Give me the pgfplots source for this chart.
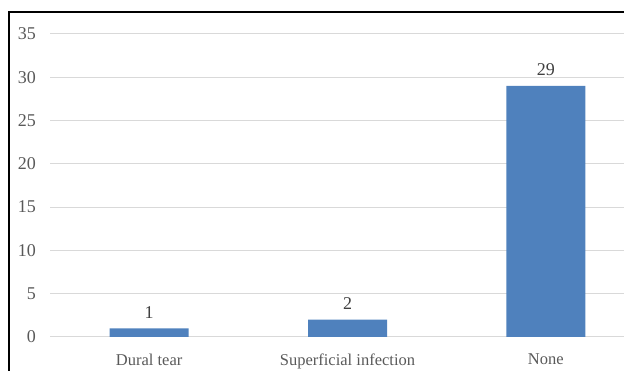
\documentclass[border=0pt]{standalone}
\usepackage{pgfplots}
\pgfplotsset{compat=1.18}
\usepackage{fontspec}
\setmainfont{Liberation Serif}
\definecolor{barblue}{HTML}{4F81BD}
\definecolor{gridgray}{HTML}{D9D9D9}
\definecolor{ticktext}{HTML}{595959}
\definecolor{labeltext}{HTML}{404040}
\begin{document}
\begin{tikzpicture}[x=1pt,y=1pt]
\path[use as bounding box] (0,0) rectangle (624,371);
\clip (0,0) rectangle (624,371);
\begin{axis}[
  at={(50pt,34pt)}, anchor=south west,
  width=595pt, height=303pt, scale only axis,
  xmin=-0.5, xmax=2.5, ymin=0, ymax=35,
  ytick={0,5,...,35},
  xtick={0,1,2},
  xticklabels={Dural tear, Superficial infection, None},
  ymajorgrids,
  grid style={gridgray, line width=1pt},
  axis line style={draw=none},
  major tick length=0pt,
  /pgf/number format/assume math mode=true,
  yticklabel style={font=\fontsize{18}{18}\selectfont, text=ticktext,
    anchor=east, inner sep=0pt, xshift=-14pt},
  xticklabel style={font=\fontsize{16.5}{16.5}\selectfont, text=ticktext,
    anchor=north, inner sep=0pt, yshift=-16.5pt},
  ybar, bar width=79pt,
  nodes near coords,
  nodes near coords style={font=\fontsize{18}{18}\selectfont, text=labeltext,
    anchor=south, inner sep=0pt, yshift=10pt},
]
\addplot[fill=barblue, draw=none] coordinates {(0,1) (1,2) (2,29)};
\end{axis}
\draw[line width=1.3pt, black] (9,0) -- (9,359) -- (624,359);
\end{tikzpicture}
\end{document}
